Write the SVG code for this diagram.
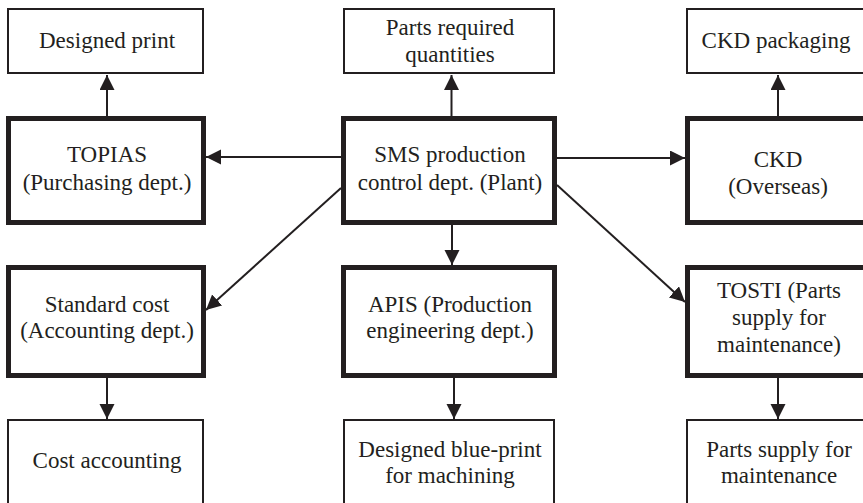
<svg xmlns="http://www.w3.org/2000/svg" width="863" height="503" viewBox="0 0 863 503">
  <style>
    .thick { fill: #ffffff; stroke: #231f20; stroke-width: 5; }
    .thin { fill: #ffffff; stroke: #231f20; stroke-width: 2; }
    text { font-family: "Liberation Serif", "Times New Roman", serif; font-size: 23px; fill: #231f20; text-anchor: middle; }
    .conn { stroke: #231f20; stroke-width: 2; fill: none; marker-end: url(#arrow); }
  </style>
  <defs>
    <marker id="arrow" markerUnits="userSpaceOnUse" markerWidth="16" markerHeight="16" refX="15" refY="7.5" orient="auto">
      <path d="M0,0 L15,7.5 L0,15 Z" fill="#231f20"/>
    </marker>
  </defs>
  <rect width="863" height="503" fill="#ffffff"/>

  <!-- top row: outputs -->
  <g id="designed-print">
    <rect class="thin" x="8" y="9" width="195" height="64"/>
    <text x="107" y="48">Designed print</text>
  </g>
  <g id="parts-required">
    <rect class="thin" x="344" y="9" width="210" height="64"/>
    <text x="450" y="35">Parts required</text>
    <text x="450" y="62">quantities</text>
  </g>
  <g id="ckd-packaging">
    <rect class="thin" x="687" y="9" width="200" height="64"/>
    <text x="776" y="48">CKD packaging</text>
  </g>

  <!-- middle row: departments -->
  <g id="topias">
    <rect class="thick" x="8.5" y="118.5" width="195" height="104"/>
    <text x="107" y="162">TOPIAS</text>
    <text x="107" y="190">(Purchasing dept.)</text>
  </g>
  <g id="sms">
    <rect class="thick" x="343.5" y="118.5" width="211" height="104"/>
    <text x="450" y="162">SMS production</text>
    <text x="450" y="190">control dept. (Plant)</text>
  </g>
  <g id="ckd">
    <rect class="thick" x="687.5" y="118.5" width="200" height="104"/>
    <text x="778" y="167">CKD</text>
    <text x="778" y="194">(Overseas)</text>
  </g>

  <g id="standard-cost">
    <rect class="thick" x="8.5" y="267.5" width="195" height="108"/>
    <text x="107" y="312">Standard cost</text>
    <text x="107" y="338">(Accounting dept.)</text>
  </g>
  <g id="apis">
    <rect class="thick" x="343.5" y="267.5" width="211" height="108"/>
    <text x="450" y="312">APIS (Production</text>
    <text x="450" y="338">engineering dept.)</text>
  </g>
  <g id="tosti">
    <rect class="thick" x="687.5" y="267.5" width="200" height="108"/>
    <text x="779" y="298">TOSTI (Parts</text>
    <text x="779" y="325">supply for</text>
    <text x="779" y="352">maintenance)</text>
  </g>

  <!-- bottom row: outputs -->
  <g id="cost-accounting">
    <rect class="thin" x="8" y="420" width="195" height="100"/>
    <text x="107" y="468">Cost accounting</text>
  </g>
  <g id="designed-blue-print">
    <rect class="thin" x="344" y="420" width="210" height="100"/>
    <text x="450" y="457">Designed blue-print</text>
    <text x="450" y="483">for machining</text>
  </g>
  <g id="parts-supply">
    <rect class="thin" x="687" y="420" width="200" height="100"/>
    <text x="779" y="457">Parts supply for</text>
    <text x="779" y="483">maintenance</text>
  </g>

  <!-- connectors -->
  <g id="connectors">
    <line class="conn" x1="107" y1="116" x2="107" y2="75"/>
    <line class="conn" x1="451.5" y1="116" x2="451.5" y2="75"/>
    <line class="conn" x1="778" y1="116" x2="778" y2="75"/>
    <line class="conn" x1="341" y1="157" x2="206" y2="157"/>
    <line class="conn" x1="557" y1="158" x2="685" y2="158"/>
    <line class="conn" x1="341" y1="188" x2="206" y2="310"/>
    <line class="conn" x1="557" y1="185" x2="685" y2="302"/>
    <line class="conn" x1="452" y1="225" x2="452" y2="265"/>
    <line class="conn" x1="107" y1="378" x2="107" y2="419"/>
    <line class="conn" x1="454" y1="378" x2="454" y2="419"/>
    <line class="conn" x1="778" y1="378" x2="778" y2="419"/>
  </g>
</svg>
